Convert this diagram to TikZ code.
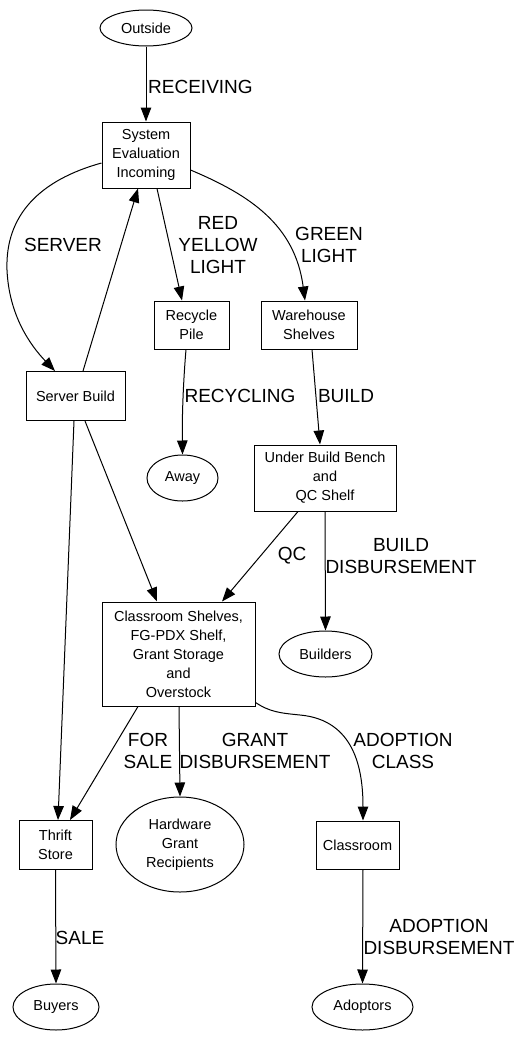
\documentclass[tikz,border=0pt]{standalone}
\usepackage{fontspec}
\setmainfont{Liberation Sans}
\usetikzlibrary{arrows.meta,shapes.geometric}
\begin{document}
\begin{tikzpicture}[x=1pt,y=-1pt,
  box/.style={draw,line width=1pt,rectangle,inner sep=0pt,align=center,font=\fontsize{14.5pt}{19pt}\selectfont},
  oval/.style={draw,line width=1pt,ellipse,inner sep=0pt,align=center,font=\fontsize{14.5pt}{19pt}\selectfont},
  edge/.style={draw,line width=1pt,-{Triangle[length=14pt,width=10.5pt]}},
  lab/.style={align=center,inner sep=0pt,font=\fontsize{19pt}{22pt}\selectfont}]
\useasboundingbox (0,0) rectangle (520,1037);
% nodes
\node[oval,minimum width=92pt,minimum height=36pt] (out) at (146,28) {Outside};
\node[box,minimum width=88pt,minimum height=66pt] (sei) at (146,155) {System\\Evaluation\\Incoming};
\node[box,minimum width=75pt,minimum height=48pt] (rec) at (191.5,325) {Recycle\\Pile};
\node[box,minimum width=96pt,minimum height=48pt] (wh) at (309,325) {Warehouse\\Shelves};
\node[box,minimum width=99pt,minimum height=49pt] (sb) at (75.5,396) {Server Build};
\node[oval,minimum width=71pt,minimum height=46pt] (away) at (182.5,478) {Away};
\node[box,minimum width=142pt,minimum height=66pt] (ub) at (325,478) {Under Build Bench\\and\\QC Shelf};
\node[oval,minimum width=93pt,minimum height=46pt] (bld) at (325.5,654) {Builders};
\node[box,minimum width=153pt,minimum height=104pt] (cs) at (178.5,654) {Classroom Shelves,\\FG-PDX Shelf,\\Grant Storage\\and\\Overstock};
\node[box,minimum width=73pt,minimum height=49pt] (ts) at (55.5,845) {Thrift\\Store};
\node[oval,minimum width=128pt,minimum height=95pt] (hgr) at (180,844.5) {Hardware\\Grant\\Recipients};
\node[box,minimum width=83pt,minimum height=48pt] (cl) at (357.5,845) {Classroom};
\node[oval,minimum width=86pt,minimum height=46pt] (buy) at (56,1007) {Buyers};
\node[oval,minimum width=101pt,minimum height=46pt] (adopt) at (362.5,1007) {Adoptors};
% edges
\draw[edge] (out) -- (sei);
\draw[edge] ([yshift=-8pt]sei.west) .. controls (40,180) and (5,215) .. (7,270) .. controls (9,315) and (30,345) .. ([xshift=-20.5pt]sb.north);
\draw[edge] ([xshift=7.5pt]sb.north) -- ([xshift=-8pt]sei.south);
\draw[edge] ([xshift=11pt]sei.south) -- ([xshift=-9.5pt]rec.north);
\draw[edge] ([yshift=-15pt]sei.east) .. controls (250,195) and (295,225) .. ([xshift=-4pt]wh.north);
\draw[edge] ([xshift=-5.5pt]rec.south) .. controls (183,385) and (182,420) .. (away.north);
\draw[edge] ([xshift=3pt]wh.south) -- ([xshift=-5pt]ub.north);
\draw[edge] ([xshift=-27pt]ub.south) -- ([xshift=43.5pt]cs.north);
\draw[edge] (ub.south) -- (bld.north);
\draw[edge] ([xshift=9.5pt]sb.south) -- ([xshift=-21.5pt]cs.north);
\draw[edge] ([xshift=-1.5pt]sb.south) -- ([xshift=2.5pt]ts.north);
\draw[edge] ([xshift=-40.5pt]cs.south) -- ([xshift=14.5pt]ts.north);
\draw[edge] ([xshift=0.5pt]cs.south) -- (hgr.north);
\draw[edge] ([yshift=4pt]cs.south east) .. controls (270,712) and (280,713) .. (300,715) .. controls (355,720) and (363,770) .. ([xshift=5.5pt]cl.north);
\draw[edge] (ts.south) -- (buy.north);
\draw[edge] ([xshift=5.5pt]cl.south) -- (adopt.north);
% labels
\node[lab,anchor=west] (l1) at (148,87) {RECEIVING};
\node[lab] (l2) at (63,245) {SERVER};
\node[lab] (l3) at (218,245) {RED\\YELLOW\\LIGHT};
\node[lab] (l4) at (329,245) {GREEN\\LIGHT};
\node[lab] (l5) at (240,396) {RECYCLING};
\node[lab] (l6) at (346,396) {BUILD};
\node[lab] (l7) at (292,556) {QC};
\node[lab] (l8) at (401,556) {BUILD\\DISBURSEMENT};
\node[lab] (l9) at (148,751) {FOR\\SALE};
\node[lab] (l10) at (255,751) {GRANT\\DISBURSEMENT};
\node[lab] (l11) at (403,751) {ADOPTION\\CLASS};
\node[lab] (l12) at (80,938) {SALE};
\node[lab] (l13) at (439,937) {ADOPTION\\DISBURSEMENT};
\end{tikzpicture}
\end{document}
